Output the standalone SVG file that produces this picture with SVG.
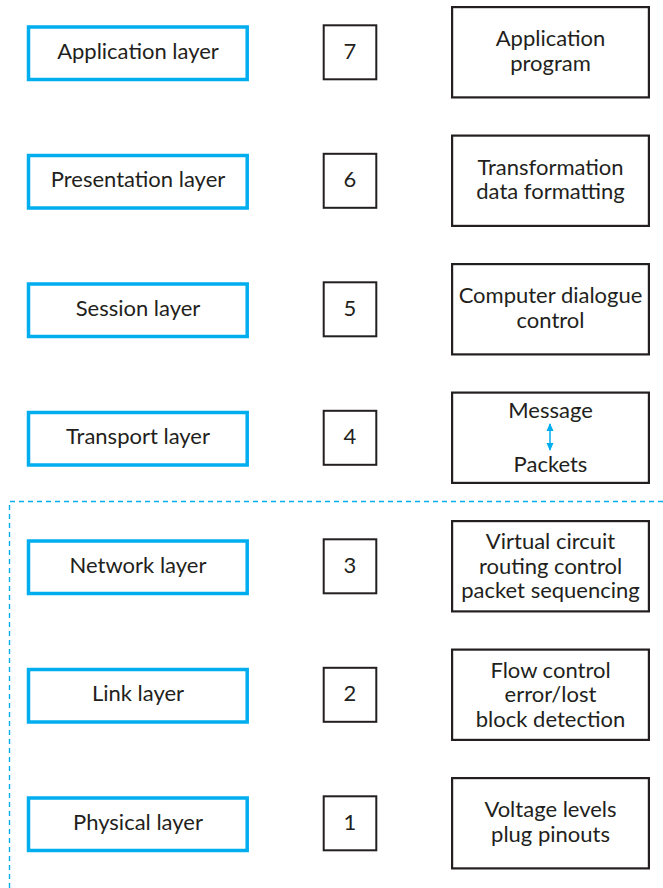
<svg xmlns="http://www.w3.org/2000/svg" width="663" height="888" viewBox="0 0 663 888">
<style>
  .layer{fill:#fff;stroke:#00aeef;stroke-width:3.5}
  .num{fill:#fff;stroke:#231f20;stroke-width:2}
  .desc{fill:#fff;stroke:#231f20;stroke-width:2.2}
  text{font-family:Lato,"Open Sans","Liberation Sans",sans-serif;font-size:22px;fill:#231f20;text-anchor:middle}
  .sep{fill:none;stroke:#00aeef;stroke-width:1.4;stroke-dasharray:5 4}
  .conn{stroke:#00aeef;stroke-width:1.5;fill:none}
</style>
<defs>
  <marker id="ah" viewBox="0 0 8 8" refX="7" refY="4" markerWidth="8" markerHeight="8" markerUnits="userSpaceOnUse" orient="auto-start-reverse">
    <path d="M0,0.5 L8,4 L0,7.5 Z" fill="#00aeef"/>
  </marker>
</defs>
<rect width="663" height="888" fill="#fff"/>
<g id="separator"><path class="sep" d="M663,501.5 H9.5 V888"/></g>

<g id="l7"><rect class="layer" x="28.5" y="27" width="218.7" height="52.5"/><text x="138" y="58.5">Application layer</text></g>
<g id="l6"><rect class="layer" x="28.5" y="155.5" width="218.7" height="52.5"/><text x="138" y="187">Presentation layer</text></g>
<g id="l5"><rect class="layer" x="28.5" y="284" width="218.7" height="52.5"/><text x="138" y="315.5">Session layer</text></g>
<g id="l4"><rect class="layer" x="28.5" y="412.5" width="218.7" height="52.5"/><text x="138" y="444">Transport layer</text></g>
<g id="l3"><rect class="layer" x="28.5" y="541" width="218.7" height="52.5"/><text x="138" y="572.5">Network layer</text></g>
<g id="l2"><rect class="layer" x="28.5" y="669.5" width="218.7" height="52.5"/><text x="138" y="701">Link layer</text></g>
<g id="l1"><rect class="layer" x="28.5" y="798" width="218.7" height="52.5"/><text x="138" y="829.5">Physical layer</text></g>

<g id="n7"><rect class="num" x="323.7" y="25.3" width="52.6" height="54"/><text x="350" y="58.5">7</text></g>
<g id="n6"><rect class="num" x="323.7" y="153.8" width="52.6" height="54"/><text x="350" y="187">6</text></g>
<g id="n5"><rect class="num" x="323.7" y="282.3" width="52.6" height="54"/><text x="350" y="315.5">5</text></g>
<g id="n4"><rect class="num" x="323.7" y="410.8" width="52.6" height="54"/><text x="350" y="444">4</text></g>
<g id="n3"><rect class="num" x="323.7" y="539.3" width="52.6" height="54"/><text x="350" y="572.5">3</text></g>
<g id="n2"><rect class="num" x="323.7" y="667.8" width="52.6" height="54"/><text x="350" y="701">2</text></g>
<g id="n1"><rect class="num" x="323.7" y="796.3" width="52.6" height="54"/><text x="350" y="829.5">1</text></g>

<g id="d7"><rect class="desc" x="452.1" y="7.1" width="196.8" height="90.3"/><text x="550.5" y="46">Application</text><text x="550.5" y="70.5">program</text></g>
<g id="d6"><rect class="desc" x="452.1" y="135.6" width="196.8" height="90.3"/><text x="550.5" y="174.5">Transformation</text><text x="550.5" y="199">data formatting</text></g>
<g id="d5"><rect class="desc" x="452.1" y="264.1" width="196.8" height="90.3"/><text x="550.5" y="303">Computer dialogue</text><text x="550.5" y="327.5">control</text></g>
<g id="d4"><rect class="desc" x="452.1" y="392.6" width="196.8" height="90.3"/><text x="550.5" y="418.3">Message</text><text x="550.5" y="471.5">Packets</text></g>
<g id="d3"><rect class="desc" x="452.1" y="521.1" width="196.8" height="90.3"/><text x="550.5" y="549">Virtual circuit</text><text x="550.5" y="573.5">routing control</text><text x="550.5" y="598">packet sequencing</text></g>
<g id="d2"><rect class="desc" x="452.1" y="649.6" width="196.8" height="90.3"/><text x="550.5" y="677.5">Flow control</text><text x="550.5" y="702">error/lost</text><text x="550.5" y="726.5">block detection</text></g>
<g id="d1"><rect class="desc" x="452.1" y="778.1" width="196.8" height="90.3"/><text x="550.5" y="817">Voltage levels</text><text x="550.5" y="841.5">plug pinouts</text></g>

<g id="connectors"><line class="conn" x1="550" y1="424" x2="550" y2="450" marker-start="url(#ah)" marker-end="url(#ah)"/></g>
</svg>
